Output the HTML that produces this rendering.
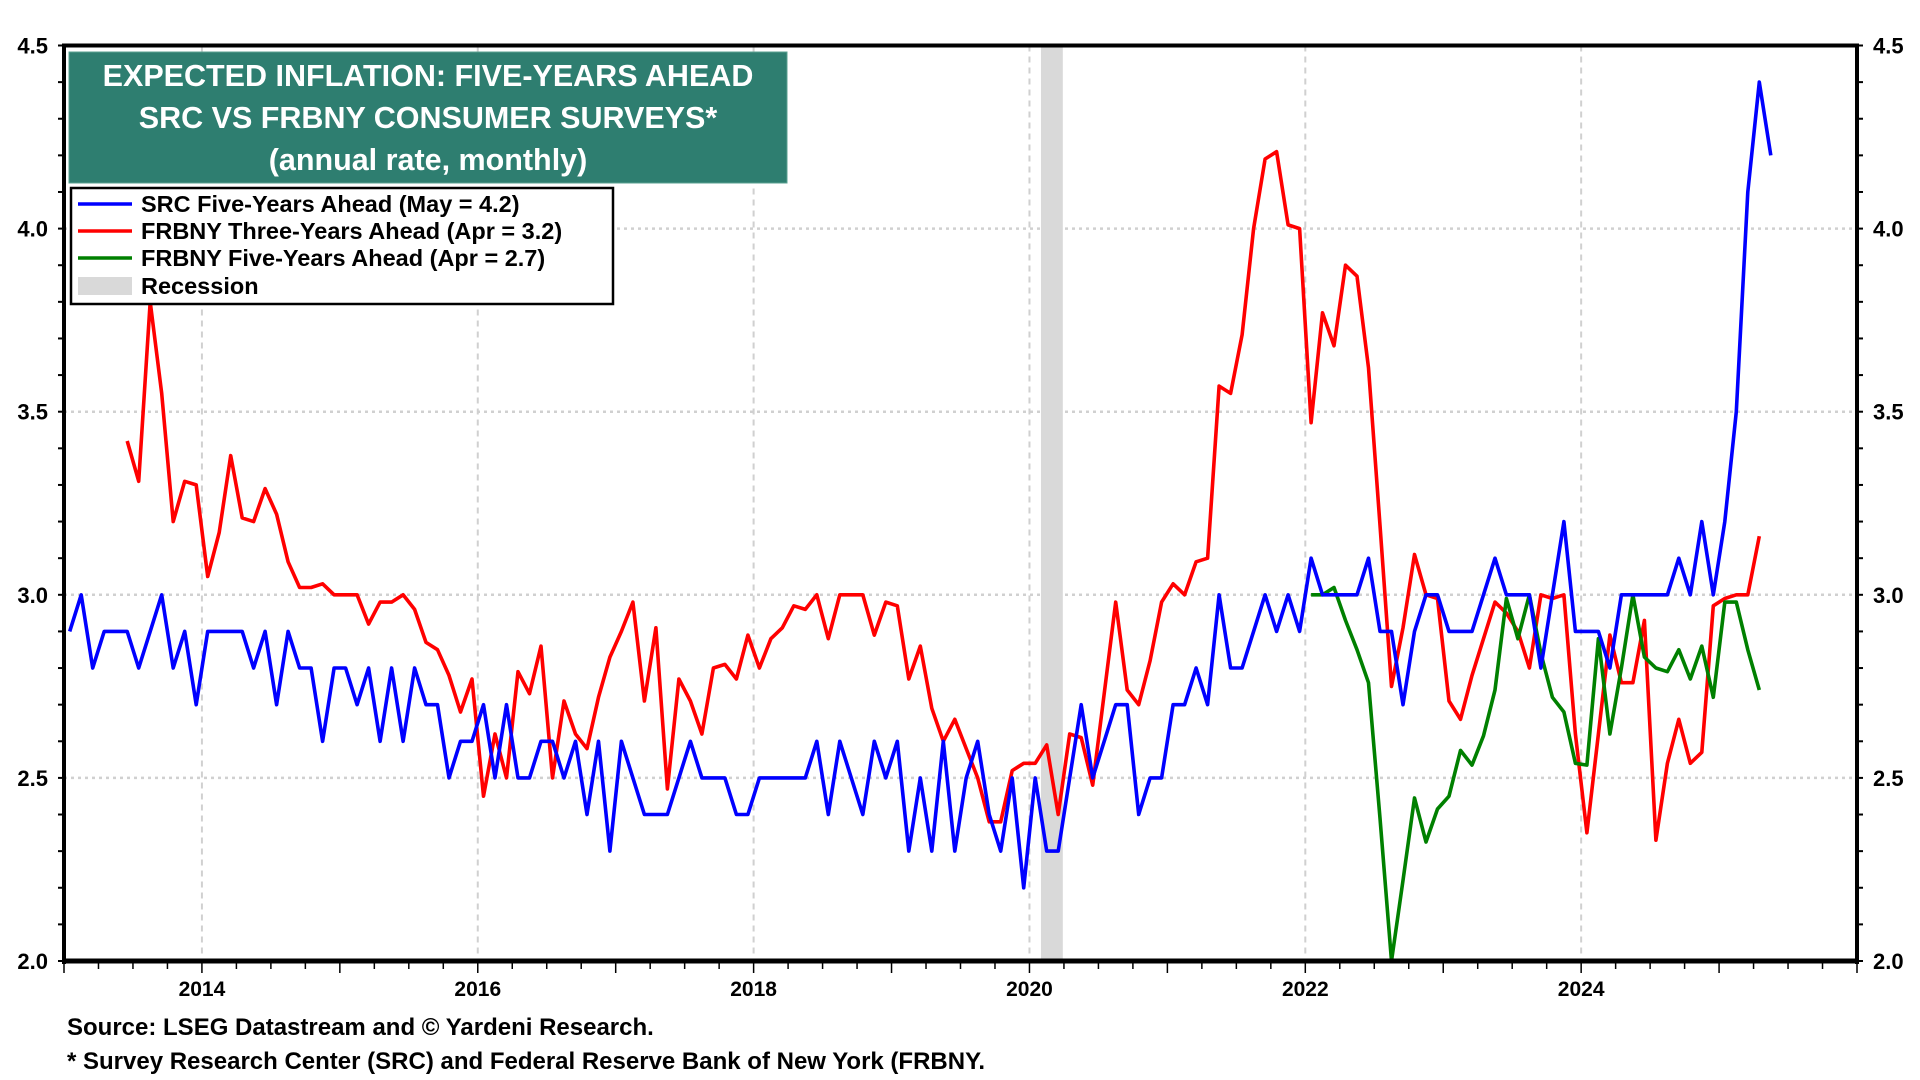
<!DOCTYPE html>
<html><head><meta charset="utf-8"><style>
html,body{margin:0;padding:0;background:#fff;width:1920px;height:1080px;overflow:hidden}
svg text{font-family:"Liberation Sans",Arial,sans-serif;font-weight:bold}
</style></head><body>
<svg id="chart" width="1920" height="1080" xmlns="http://www.w3.org/2000/svg">
<g id="grid"></g>
<g id="rec"></g>
<g id="series"></g>
<g id="axes"></g>
<g>
<rect x="69" y="52" width="718" height="131" fill="#2e7e70" stroke="#5aa090" stroke-width="1"/>
<text x="428" y="86" text-anchor="middle" fill="#fff" font-size="30.5">EXPECTED INFLATION: FIVE-YEARS AHEAD</text>
<text x="428" y="128" text-anchor="middle" fill="#fff" font-size="30.5">SRC VS FRBNY CONSUMER SURVEYS*</text>
<text x="428" y="170" text-anchor="middle" fill="#fff" font-size="30.5">(annual rate, monthly)</text>
</g>
<g>
<rect x="71" y="188" width="542" height="116" fill="#fff" stroke="#000" stroke-width="2.5"/>
<g><line x1="78" y1="204" x2="132" y2="204" stroke="#0000ff" stroke-width="3.5"/><text x="141" y="212" font-size="23.5">SRC Five-Years Ahead (May = 4.2)</text></g>
<g><line x1="78" y1="231" x2="132" y2="231" stroke="#ff0000" stroke-width="3.5"/><text x="141" y="239" font-size="23.5">FRBNY Three-Years Ahead (Apr = 3.2)</text></g>
<g><line x1="78" y1="258" x2="132" y2="258" stroke="#008000" stroke-width="3.5"/><text x="141" y="266" font-size="23.5">FRBNY Five-Years Ahead (Apr = 2.7)</text></g>
<g><rect x="78" y="277" width="54" height="18" fill="#d9d9d9"/><text x="141" y="294" font-size="23.5">Recession</text></g>
</g>
<text x="67" y="1035" font-size="24">Source: LSEG Datastream and © Yardeni Research.</text>
<text x="67" y="1069" font-size="24">* Survey Research Center (SRC) and Federal Reserve Bank of New York (FRBNY.</text>
</svg>
<script>
// Data (monthly, index 0 = Jan 2013)
const srcStart = 0;
const srcValues = [2.9,3.0,2.8,2.9,2.9,2.9,2.8,2.9,3.0,2.8,2.9,2.7,
2.9,2.9,2.9,2.9,2.8,2.9,2.7,2.9,2.8,2.8,2.6,2.8,
2.8,2.7,2.8,2.6,2.8,2.6,2.8,2.7,2.7,2.5,2.6,2.6,
2.7,2.5,2.7,2.5,2.5,2.6,
2.6,2.5,2.6,2.4,2.6,2.3,2.6,2.5,2.4,2.4,2.4,2.5,2.6,2.5,2.5,2.5,2.4,2.4,2.5,2.5,2.5,2.5,2.5,2.6,2.4,2.6,2.5,2.4,2.6,2.5,2.6,2.3,2.5,2.3,2.6,2.3,2.5,2.6,2.4,2.3,2.5,2.2,2.5,
2.3,2.3,2.5,2.7,2.5,2.6,2.7,2.7,2.4,2.5,2.5,2.7,2.7,2.8,2.7,3.0,2.8,2.8,2.9,3.0,2.9,3.0,2.9,3.1,3.0,3.0,3.0,3.0,3.1,2.9,2.9,2.7,2.9,3.0,3.0,
2.9,2.9,2.9,3.0,3.1,3.0,3.0,3.0,2.8,3.0,3.2,2.9,2.9,2.9,2.8,3.0,3.0,3.0,3.0,3.0,3.1,3.0,3.2,3.0,3.2,3.5,4.1,4.4,4.2];
const frbny3Start = 5;
const frbny3Values = [3.42,3.31,3.80,3.55,3.20,3.31,3.30,3.05,3.17,3.38,3.21,3.20,3.29,3.22,3.09,3.02,3.02,3.03,3.00,3.00,3.00,2.92,2.98,2.98,3.00,2.96,2.87,2.85,2.78,2.68,2.77,2.45,2.62,2.50,2.79,2.73,2.86,
2.50,2.71,2.62,2.58,2.72,2.83,2.90,2.98,2.71,2.91,2.47,2.77,2.71,2.62,2.80,2.81,2.77,2.89,2.80,2.88,2.91,2.97,2.96,3.00,2.88,3.00,3.00,3.00,2.89,2.98,2.97,2.77,2.86,2.69,2.60,2.66,2.58,2.50,2.38,2.38,2.52,2.54,2.54,2.59,
2.40,2.62,2.61,2.48,2.73,2.98,2.74,2.70,2.82,2.98,3.03,3.00,3.09,3.10,3.57,3.55,3.71,4.00,4.19,4.21,4.01,4.00,3.47,3.77,3.68,3.90,3.87,3.62,3.19,2.75,2.91,3.11,3.00,2.99,
2.71,2.66,2.78,2.88,2.98,2.95,2.90,2.80,3.00,2.99,3.00,2.62,2.35,2.62,2.89,2.76,2.76,2.93,2.33,2.54,2.66,2.54,2.57,2.97,2.99,3.00,3.00,3.16];
const frbny5Start = 108;
const frbny5Values = [3.0,3.0,3.02,2.93,2.85,2.76,2.39,2.0,2.22,2.445,2.325,2.415,2.45,2.575,2.535,2.615,2.74,2.99,2.88,3.0,2.84,2.72,2.68,2.54,2.535,2.88,2.62,2.80,3.0,2.83,2.80,2.79,2.85,2.77,2.86,2.72,2.98,2.98,2.85,2.74];
const yTicks = [2.0,2.5,3.0,3.5,4.0,4.5];
const yTickLabels = ["2.0","2.5","3.0","3.5","4.0","4.5"];
const xYears = [2014,2016,2018,2020,2022,2024];
const recessions = [[85,86.9]]; // month index start/end (Feb 2020 - Apr 2020)

const NS="http://www.w3.org/2000/svg";
const L=64,R=1857,T=45.5,B=961, M0=0, M1=156;
const xm = m => L + (m-M0)/(M1-M0)*(R-L);
const yv = v => B - (v-2.0)/(4.5-2.0)*(B-T);
function mk(tag,attrs,parent){const e=document.createElementNS(NS,tag);for(const k in attrs)e.setAttribute(k,attrs[k]);parent.appendChild(e);return e;}
const grid=document.getElementById('grid'),axes=document.getElementById('axes'),ser=document.getElementById('series'),rec=document.getElementById('rec');

yTicks.forEach((v,i)=>{
  if(v>2.0&&v<4.5){const g=mk('line',{x1:L,x2:R,y1:yv(v),y2:yv(v),stroke:'#d0d0d0','stroke-width':2.5,'stroke-dasharray':'3 4'},grid);
  
  }
  const t1=mk('text',{x:48,y:yv(v)+8,'text-anchor':'end','font-size':22},axes);t1.textContent=yTickLabels[i];
  
  
  const t2=mk('text',{x:1873,y:yv(v)+8,'text-anchor':'start','font-size':22},axes);t2.textContent=yTickLabels[i];
  
  
});
for(let v=2.0;v<=4.501;v+=0.1){
  mk('line',{x1:L-6,x2:L,y1:yv(v),y2:yv(v),stroke:'#000','stroke-width':2},axes);
  mk('line',{x1:R,x2:R+6,y1:yv(v),y2:yv(v),stroke:'#000','stroke-width':2},axes);
}
xYears.forEach(yr=>{
  const m=(yr-2013)*12;
  const g=mk('line',{x1:xm(m),x2:xm(m),y1:T,y2:B,stroke:'#d0d0d0','stroke-width':2,'stroke-dasharray':'6 5'},grid);
  
  
  const t=mk('text',{x:xm(m),y:996,'text-anchor':'middle','font-size':21},axes);t.textContent=String(yr);
  
  
});
for(let m=0;m<=M1;m+=3){mk('line',{x1:xm(m),x2:xm(m),y1:B,y2:B+(m%12===0?12:8),stroke:'#000','stroke-width':1.5},axes);}
recessions.forEach(r=>{
  const b=mk('rect',{x:xm(r[0]),y:T,width:xm(r[1])-xm(r[0]),height:B-T,fill:'#d9d9d9'},rec);
  
  
});
function drawSeries(start,vals,color,name){
  const pts=vals.map((v,i)=>xm(start+i+0.5).toFixed(1)+','+yv(v).toFixed(1)).join(' ');
  const p=mk('polyline',{points:pts,fill:'none',stroke:color,'stroke-width':3.6,'stroke-linejoin':'round'},ser);
  
  
}
drawSeries(frbny3Start,frbny3Values,'#ff0000','frbny-three-years-line');
drawSeries(frbny5Start,frbny5Values,'#008000','frbny-five-years-line');
drawSeries(srcStart,srcValues,'#0000ff','src-five-years-line');
mk('line',{x1:L,x2:R,y1:T,y2:T,stroke:'#000','stroke-width':4},axes);
mk('line',{x1:L,x2:L,y1:T-2,y2:B+3,stroke:'#000','stroke-width':4},axes);
mk('line',{x1:R,x2:R,y1:T-2,y2:B+3,stroke:'#000','stroke-width':4},axes);
mk('line',{x1:L-2,x2:R+2,y1:B,y2:B,stroke:'#000','stroke-width':5},axes);
</script>
</body></html>
